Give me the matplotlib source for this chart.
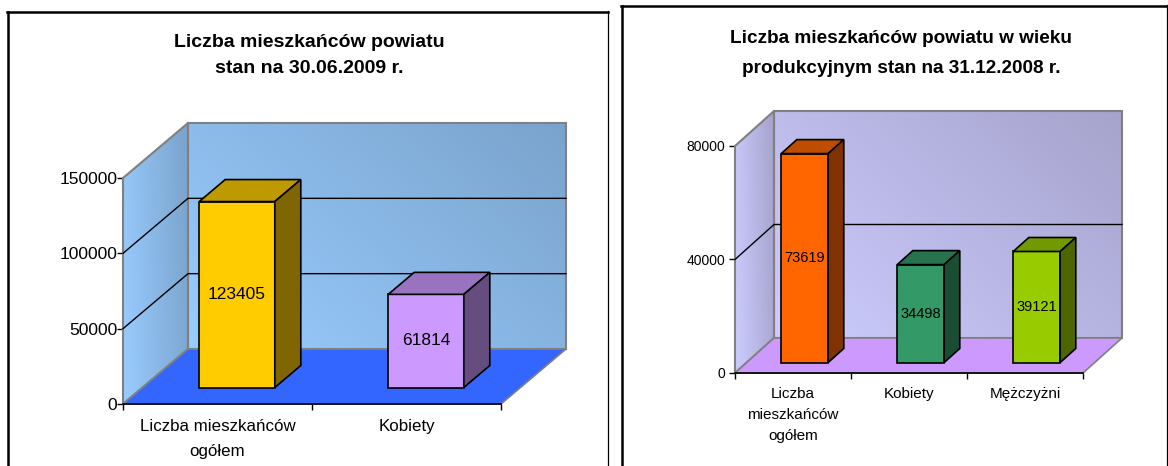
"""Two pseudo-3D Excel style column charts, side by side."""

import matplotlib

matplotlib.use("Agg")
import matplotlib.pyplot as plt
import numpy as np
from matplotlib.colors import LinearSegmentedColormap
from matplotlib.patches import Polygon

W, H = 1168, 466

plt.rcParams["font.family"] = ["Liberation Sans", "DejaVu Sans"]

# Data
left_title = "Liczba mieszkańców powiatu\nstan na 30.06.2009 r."
left_categories = ["Liczba mieszkańców\nogółem", "Kobiety"]
left_values = [123405, 61814]
left_ticks = [0, 50000, 100000, 150000]
left_colors = ["#FFCC00", "#CC99FF"]

right_title = "Liczba mieszkańców powiatu w wieku\nprodukcyjnym stan na 31.12.2008 r."
right_categories = ["Liczba\nmieszkańców\nogółem", "Kobiety", "Mężczyżni"]
right_values = [73619, 34498, 39121]
right_ticks = [0, 40000, 80000]
right_colors = ["#FF6600", "#339966", "#99CC00"]


def shade(color, factor):
    rgb = np.array(matplotlib.colors.to_rgb(color))
    return tuple(rgb * factor)


def draw_wall(ax, corners, cmap, horizontal):
    """Fill a polygon with a gradient, clipped to its outline."""
    xs, ys = zip(*corners)
    gx, gy = np.meshgrid(np.linspace(0, 1, 120), np.linspace(0, 1, 120))
    grad = 0.85 * gx + 0.15 * gy if horizontal else 0.6 * gx + 0.4 * gy
    im = ax.imshow(
        grad,
        cmap=cmap,
        vmin=0,
        vmax=1,
        origin="lower",
        extent=(min(xs), max(xs), min(ys), max(ys)),
        aspect="auto",
        zorder=1,
    )
    clip = Polygon(corners, transform=ax.transData, facecolor="none", edgecolor="none")
    # images stay inside the axes box unless the clip box is widened
    im.set_clip_box(fig.bbox)
    im.set_clip_path(clip)
    ax.add_patch(
        Polygon(corners, closed=True, fill=False, edgecolor="#808080", lw=1.5,
                clip_on=False, zorder=2)
    )


def column_chart(box, depth_px, categories, values, ticks, colors, wall_cmap, floor,
                 tick_size, cat_size, label_size, linespacing, tick_pad, cat_pad,
                 bar_width, bar_depth):
    left, top, right, bottom = box
    ax = fig.add_axes([left / W, 1 - bottom / H, (right - left) / W, (bottom - top) / H])
    n = len(categories)
    ymax = ticks[-1]
    ax.set_xlim(0, n)
    ax.set_ylim(0, ymax)
    ax.patch.set_visible(False)

    # depth offset, in data units
    dx = depth_px[0] / (right - left) * n
    dy = depth_px[1] / (bottom - top) * ymax

    def at(x, v, d):
        return (x + d * dx, v + d * dy)

    back = [at(0, 0, 1), at(n, 0, 1), at(n, ymax, 1), at(0, ymax, 1)]
    side = [at(0, 0, 0), at(0, 0, 1), at(0, ymax, 1), at(0, ymax, 0)]
    draw_wall(ax, back, wall_cmap, False)
    draw_wall(ax, side, wall_cmap, True)
    ax.set_xlim(0, n)
    ax.set_ylim(0, ymax)

    ax.add_patch(
        Polygon([at(0, 0, 0), at(n, 0, 0), at(n, 0, 1), at(0, 0, 1)], closed=True,
                facecolor=floor, edgecolor="#808080", lw=1.2, clip_on=False, zorder=3)
    )

    # gridlines, along the side wall then along the back wall
    for t in ticks[1:-1]:
        gx, gy = zip(at(0, t, 0), at(0, t, 1), at(n, t, 1))
        ax.plot(gx, gy, color="black", lw=1.0, clip_on=False, zorder=4)

    d0 = 0.5 - bar_depth / 2
    d1 = 0.5 + bar_depth / 2
    for i, (v, c) in enumerate(zip(values, colors)):
        x0 = i + 0.5 - bar_width / 2
        x1 = i + 0.5 + bar_width / 2
        style = dict(closed=True, edgecolor="black", lw=1.2, clip_on=False, zorder=5)
        ax.add_patch(Polygon([at(x0, 0, d0), at(x1, 0, d0), at(x1, v, d0), at(x0, v, d0)],
                             facecolor=c, **style))
        ax.add_patch(Polygon([at(x0, v, d0), at(x1, v, d0), at(x1, v, d1), at(x0, v, d1)],
                             facecolor=shade(c, 0.75), **style))
        ax.add_patch(Polygon([at(x1, 0, d0), at(x1, 0, d1), at(x1, v, d1), at(x1, v, d0)],
                             facecolor=shade(c, 0.5), **style))
        tx, ty = at(i + 0.5, v / 2, d0)
        ax.text(tx, ty, str(v), ha="center", va="center", fontsize=label_size,
                color="black", zorder=6)

    for name in ("top", "right"):
        ax.spines[name].set_visible(False)
    ax.spines["left"].set_color("#808080")
    ax.spines["left"].set_linewidth(1.2)
    ax.spines["bottom"].set_linewidth(1.2)
    ax.spines["bottom"].set_zorder(7)

    ax.set_yticks(ticks)
    ax.set_yticklabels([str(t) for t in ticks], fontsize=tick_size)
    ax.tick_params(axis="y", length=4, width=1, pad=tick_pad)
    ax.set_xticks(np.arange(n + 1))
    ax.set_xticklabels([])
    ax.tick_params(axis="x", which="major", length=4, width=1)
    ax.set_xticks(np.arange(n) + 0.5, minor=True)
    ax.set_xticklabels(categories, minor=True, fontsize=cat_size, linespacing=linespacing)
    ax.tick_params(axis="x", which="minor", length=0, pad=cat_pad)
    return ax


fig = plt.figure(figsize=(W / 100, H / 100), dpi=100, facecolor="white")

# panel frames and titles, in pixel coordinates
bg = fig.add_axes([0, 0, 1, 1])
bg.set_xlim(0, W)
bg.set_ylim(H, 0)
bg.axis("off")
bg.plot([7.5, 7.5], [H, 11.5], color="black", lw=1.8)
bg.plot([7, 608], [11.5, 11.5], color="black", lw=1.8)
bg.plot([607.5, 607.5], [11, H], color="black", lw=0.9)
bg.plot([621.5, 621.5], [H, 5.5], color="black", lw=1.8)
bg.plot([621, W], [5.5, 5.5], color="black", lw=1.8)
bg.plot([1166.5, 1166.5], [5, H], color="black", lw=0.9)
bg.text(309, 55.5, left_title, ha="center", va="center", fontsize=14,
        fontweight="bold", linespacing=1.65)
bg.text(901, 53.5, right_title, ha="center", va="center", fontsize=13.7,
        fontweight="bold", linespacing=1.95)

blue_walls = LinearSegmentedColormap.from_list("blue_walls", ["#99CCFF", "#7AA3CC"])
violet_walls = LinearSegmentedColormap.from_list("violet_walls", ["#CCCCFF", "#A6A3CC"])

column_chart((123, 178, 501, 404), (65, 55), left_categories, left_values, left_ticks,
             left_colors, blue_walls, "#3366FF", 12.5, 12.2, 12.5, 1.77, 0, 11, 0.4, 0.4)
column_chart((735, 146, 1083, 373), (39, 35), right_categories, right_values, right_ticks,
             right_colors, violet_walls, "#CC99FF", 10, 11, 10.5, 1.64, 3, 10, 0.405, 0.4)

plt.savefig("out.png", dpi=100)
plt.close()
